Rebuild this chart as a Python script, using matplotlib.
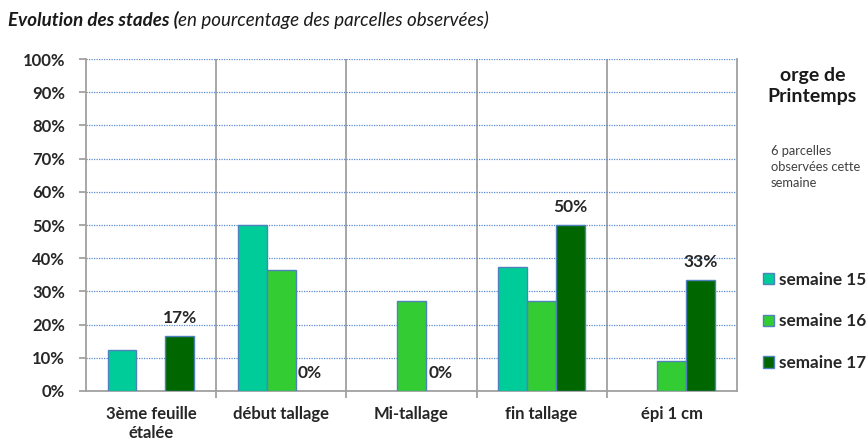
import numpy as np
import matplotlib.pyplot as plt
from matplotlib.patches import Patch

plt.rcParams['font.family'] = ['Lato', 'DejaVu Sans']

# data
stades = ['3ème feuille\nétalée', 'début tallage', 'Mi-tallage', 'fin tallage', 'épi 1 cm']
semaine15 = [12.5, 50.0, 0.0, 37.5, 0.0]
semaine16 = [0.0, 36.4, 27.0, 27.0, 9.0]
semaine17 = [16.7, 0.0, 0.0, 50.0, 33.3]
series_names = ['semaine 15', 'semaine 16', 'semaine 17']
labels17 = ['17%', '0%', '0%', '50%', '33%']

colors = ['#00CC99', '#33CC33', '#006600']
edge = '#4F81BD'
txt = '#262626'

fig = plt.figure(figsize=(8.67, 4.42), dpi=100)
ax = fig.add_axes([0.099, 0.1154, 0.751, 0.751])

x = np.arange(len(stades))
w = 0.222
for i, vals in enumerate([semaine15, semaine16, semaine17]):
    pos = x + (i - 1) * w
    v = np.array(vals)
    m = v > 0
    ax.bar(pos[m], v[m], width=w, color=colors[i], edgecolor=edge, linewidth=1.0, zorder=3)

# labels on week 17 only
for xi, val, lab in zip(x + w, semaine17, labels17):
    ax.text(xi, val + 3.0, lab, ha='center', va='bottom', fontsize=12.5,
            fontweight='bold', color=txt, zorder=4)

ax.set_xlim(-0.5, len(stades) - 0.5)
ax.set_ylim(0, 100)
ax.set_yticks(np.arange(0, 101, 10))
ax.set_yticklabels([f'{t}%' for t in range(0, 101, 10)], fontweight='bold', fontsize=12, color=txt)
ax.set_xticks(x)
ax.set_xticklabels(stades, fontweight='bold', fontsize=12, linespacing=1.2, color=txt)
ax.tick_params(axis='x', length=0, pad=11)
ax.set_xticks(np.arange(0.5, len(stades) - 0.5, 1), minor=True)
ax.tick_params(axis='x', which='minor', length=5, color='#999999', width=1.2)
ax.tick_params(axis='y', length=5, color='#999999', width=1.2, pad=10)

ax.yaxis.grid(True, linestyle=(0, (1, 1)), color='#5B8BD0', linewidth=0.9, zorder=0)
for b in np.arange(0.5, len(stades) - 0.5, 1):
    ax.axvline(b, color='#A0A0A0', linewidth=1.3, zorder=1)
for s in ['left', 'bottom', 'right']:
    ax.spines[s].set_color('#A0A0A0')
    ax.spines[s].set_linewidth(1.3)
ax.spines['top'].set_visible(False)

# title: bold italic part + italic part
t1 = fig.text(0.009, 0.955, 'Evolution des stades (', fontsize=13.5, fontweight='bold',
              fontstyle='italic', va='center', color='#1a1a1a')
fig.canvas.draw()
bb = t1.get_window_extent()
fig.text(bb.x1 / fig.bbox.width, 0.955, 'en pourcentage des parcelles observées)', fontsize=13.5,
         fontstyle='italic', va='center', color='#1a1a1a')

fig.text(0.937, 0.805, 'orge de\nPrintemps', fontsize=14, fontweight='bold', ha='center',
         va='center', color='#1a1a1a', linespacing=1.25)
fig.text(0.889, 0.622, '6 parcelles\nobservées cette\nsemaine', fontsize=9.3, ha='left',
         va='center', color='#404040', linespacing=1.4)

handles = [Patch(facecolor=c, edgecolor=edge, label=n) for c, n in zip(colors, series_names)]
fig.legend(handles=handles, loc='center left', bbox_to_anchor=(0.880, 0.273),
           frameon=False, prop={'weight': 'bold', 'size': 12.3}, labelspacing=1.5,
           handlelength=0.65, handleheight=0.65, handletextpad=0.3, borderaxespad=0,
           borderpad=0, labelcolor=txt)

fig.savefig('out.png', dpi=100)
